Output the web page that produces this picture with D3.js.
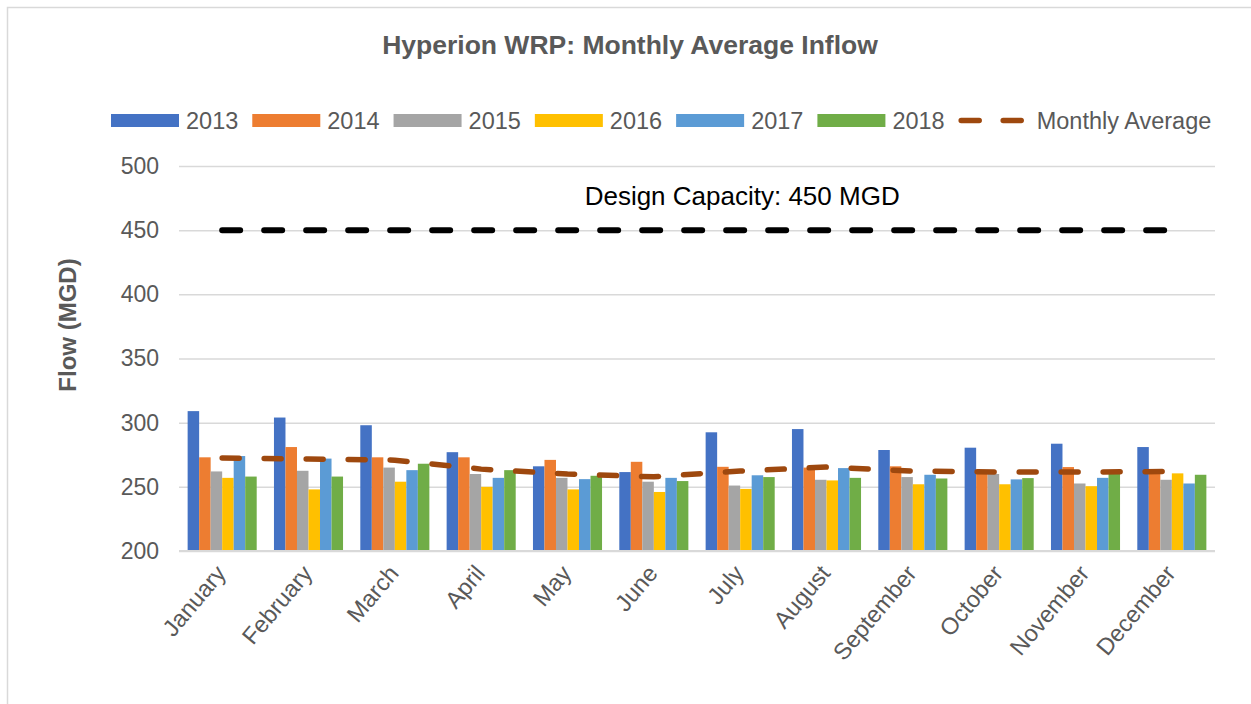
<!DOCTYPE html>
<html>
<head>
<meta charset="utf-8">
<script src="https://cdn.jsdelivr.net/npm/d3@7"></script>
<style>
  body { margin: 0; background: #fff; }
  text { font-family: "Liberation Sans", Arial, sans-serif; }
</style>
</head>
<body>
<svg id="chart"></svg>
<script>
const months = ['January', 'February', 'March', 'April', 'May', 'June', 'July', 'August', 'September', 'October', 'November', 'December'];
const years = ['2013', '2014', '2015', '2016', '2017', '2018'];

const flow2013 = [309, 304, 298, 277, 266, 261.5, 292.5, 295, 278.7, 280.5, 283.6, 281];
const flow2014 = [273, 281, 273, 273, 271, 269.5, 265.6, 265, 266, 263, 265.4, 263];
const flow2015 = [262, 262.5, 265, 260, 257, 254, 251, 255.5, 257.6, 260, 252.6, 255.5];
const flow2016 = [257, 248, 254, 250, 248, 246, 248.4, 255, 252, 252, 250.5, 260.5];
const flow2017 = [274, 272, 263, 257, 256, 257, 259, 264.6, 259.4, 255.8, 257, 252.6];
const flow2018 = [258, 258, 268, 263, 258.6, 254.5, 257.6, 257, 256.5, 256.8, 260, 259.4];
const monthlyAvg = [272.4, 271.6, 270.8, 263.8, 260, 257.8, 262.3, 265.4, 262.3, 261.5, 261.5, 262];
const designCapacity = [450, 450, 450, 450, 450, 450, 450, 450, 450, 450, 450, 450];
const yTicks = [200, 250, 300, 350, 400, 450, 500];

const series = [flow2013, flow2014, flow2015, flow2016, flow2017, flow2018];
const colors = ['#4472C4', '#ED7D31', '#A5A5A5', '#FFC000', '#5B9BD5', '#70AD47'];
const avgColor = '#9E480E';
const textColor = '#595959';

const width = 1251, height = 704;
const margin = {top: 166, right: 36, bottom: 153, left: 179};

const svg = d3.select('#chart')
  .attr('width', width)
  .attr('height', height);

// chart border
svg.append('rect')
  .attr('x', 7.5).attr('y', 7.5)
  .attr('width', 1260).attr('height', 720)
  .attr('fill', 'none')
  .attr('stroke', '#d9d9d9')
  .attr('stroke-width', 1.5);

const xAxis = d3.scaleBand()
  .domain(months)
  .range([margin.left, width - margin.right])
  .paddingInner(0.2)
  .paddingOuter(0.1);

const xYear = d3.scaleBand()
  .domain(years)
  .range([0, xAxis.bandwidth()]);

const yAxis = d3.scaleLinear()
  .domain([200, 500])
  .range([height - margin.bottom, margin.top]);

const cx = m => xAxis(m) + xAxis.bandwidth() / 2;

// title
svg.append('text')
  .attr('x', 630).attr('y', 54)
  .attr('text-anchor', 'middle')
  .attr('fill', textColor)
  .attr('font-size', 26.5)
  .attr('font-weight', 'bold')
  .text('Hyperion WRP: Monthly Average Inflow');

// gridlines + y labels
svg.append('g')
  .attr('transform', `translate(${margin.left},0)`)
  .call(d3.axisLeft(yAxis).tickValues(yTicks).tickSize(-(width - margin.left - margin.right)).tickPadding(20))
  .call(g => g.select('.domain').remove())
  .call(g => g.selectAll('.tick line').attr('stroke', '#d9d9d9').attr('stroke-width', 1.5))
  .call(g => g.selectAll('.tick text')
    .attr('fill', textColor)
    .attr('font-size', 23)
    .style('font-family', '"Liberation Sans", Arial, sans-serif'));

// bars
svg.append('g')
  .selectAll('g')
  .data(series)
  .join('g')
    .attr('fill', (d, i) => colors[i])
    .each(function(vals, si) {
      d3.select(this).selectAll('rect')
        .data(vals)
        .join('rect')
          .attr('x', (d, i) => xAxis(months[i]) + xYear(years[si]))
          .attr('y', d => yAxis(d))
          .attr('width', xYear.bandwidth())
          .attr('height', d => yAxis(200) - yAxis(d));
    });

// x axis line
svg.append('line')
  .attr('x1', margin.left).attr('x2', width - margin.right)
  .attr('y1', yAxis(200)).attr('y2', yAxis(200))
  .attr('stroke', '#d9d9d9')
  .attr('stroke-width', 2);

const line = d3.line()
  .x((d, i) => cx(months[i]))
  .y(d => yAxis(d));

svg.append('path')
  .datum(designCapacity)
  .attr('d', line)
  .attr('fill', 'none')
  .attr('stroke', '#000')
  .attr('stroke-width', 6)
  .attr('stroke-linecap', 'round')
  .attr('stroke-dasharray', '18,24');

svg.append('path')
  .datum(monthlyAvg)
  .attr('d', line)
  .attr('fill', 'none')
  .attr('stroke', avgColor)
  .attr('stroke-width', 5.5)
  .attr('stroke-linecap', 'round')
  .attr('stroke-dasharray', '17,25');

svg.append('text')
  .attr('x', cx('July') + 2)
  .attr('y', yAxis(450) - 25)
  .attr('text-anchor', 'middle')
  .attr('fill', '#000')
  .attr('font-size', 26)
  .text('Design Capacity: 450 MGD');

// x labels
svg.append('g')
  .selectAll('text')
  .data(months)
  .join('text')
    .attr('transform', d => `translate(${cx(d) + 5},${yAxis(200) + 23}) rotate(-50)`)
    .attr('text-anchor', 'end')
    .attr('fill', textColor)
    .attr('font-size', 23.5)
    .text(d => d);

// y title
svg.append('text')
  .attr('transform', 'translate(76,325) rotate(-90)')
  .attr('text-anchor', 'middle')
  .attr('fill', textColor)
  .attr('font-size', 24)
  .attr('font-weight', 'bold')
  .text('Flow (MGD)');

// legend
const legend = svg.append('g');
let lx = 111;
years.forEach((yr, i) => {
  legend.append('rect')
    .attr('x', lx).attr('y', 114)
    .attr('width', 68).attr('height', 13)
    .attr('fill', colors[i]);
  const t = legend.append('text')
    .attr('x', lx + 75).attr('y', 129)
    .attr('fill', textColor)
    .attr('font-size', 23.5)
    .text(yr);
  lx += 75 + t.node().getComputedTextLength() + 14;
});
legend.append('line')
  .attr('x1', lx + 2.5).attr('x2', lx + 62.5)
  .attr('y1', 120.5).attr('y2', 120.5)
  .attr('stroke', avgColor)
  .attr('stroke-width', 5.5)
  .attr('stroke-linecap', 'round')
  .attr('stroke-dasharray', '18,24');
legend.append('text')
  .attr('x', lx + 78).attr('y', 129)
  .attr('fill', textColor)
  .attr('font-size', 23.5)
  .text('Monthly Average');
</script>
</body>
</html>
